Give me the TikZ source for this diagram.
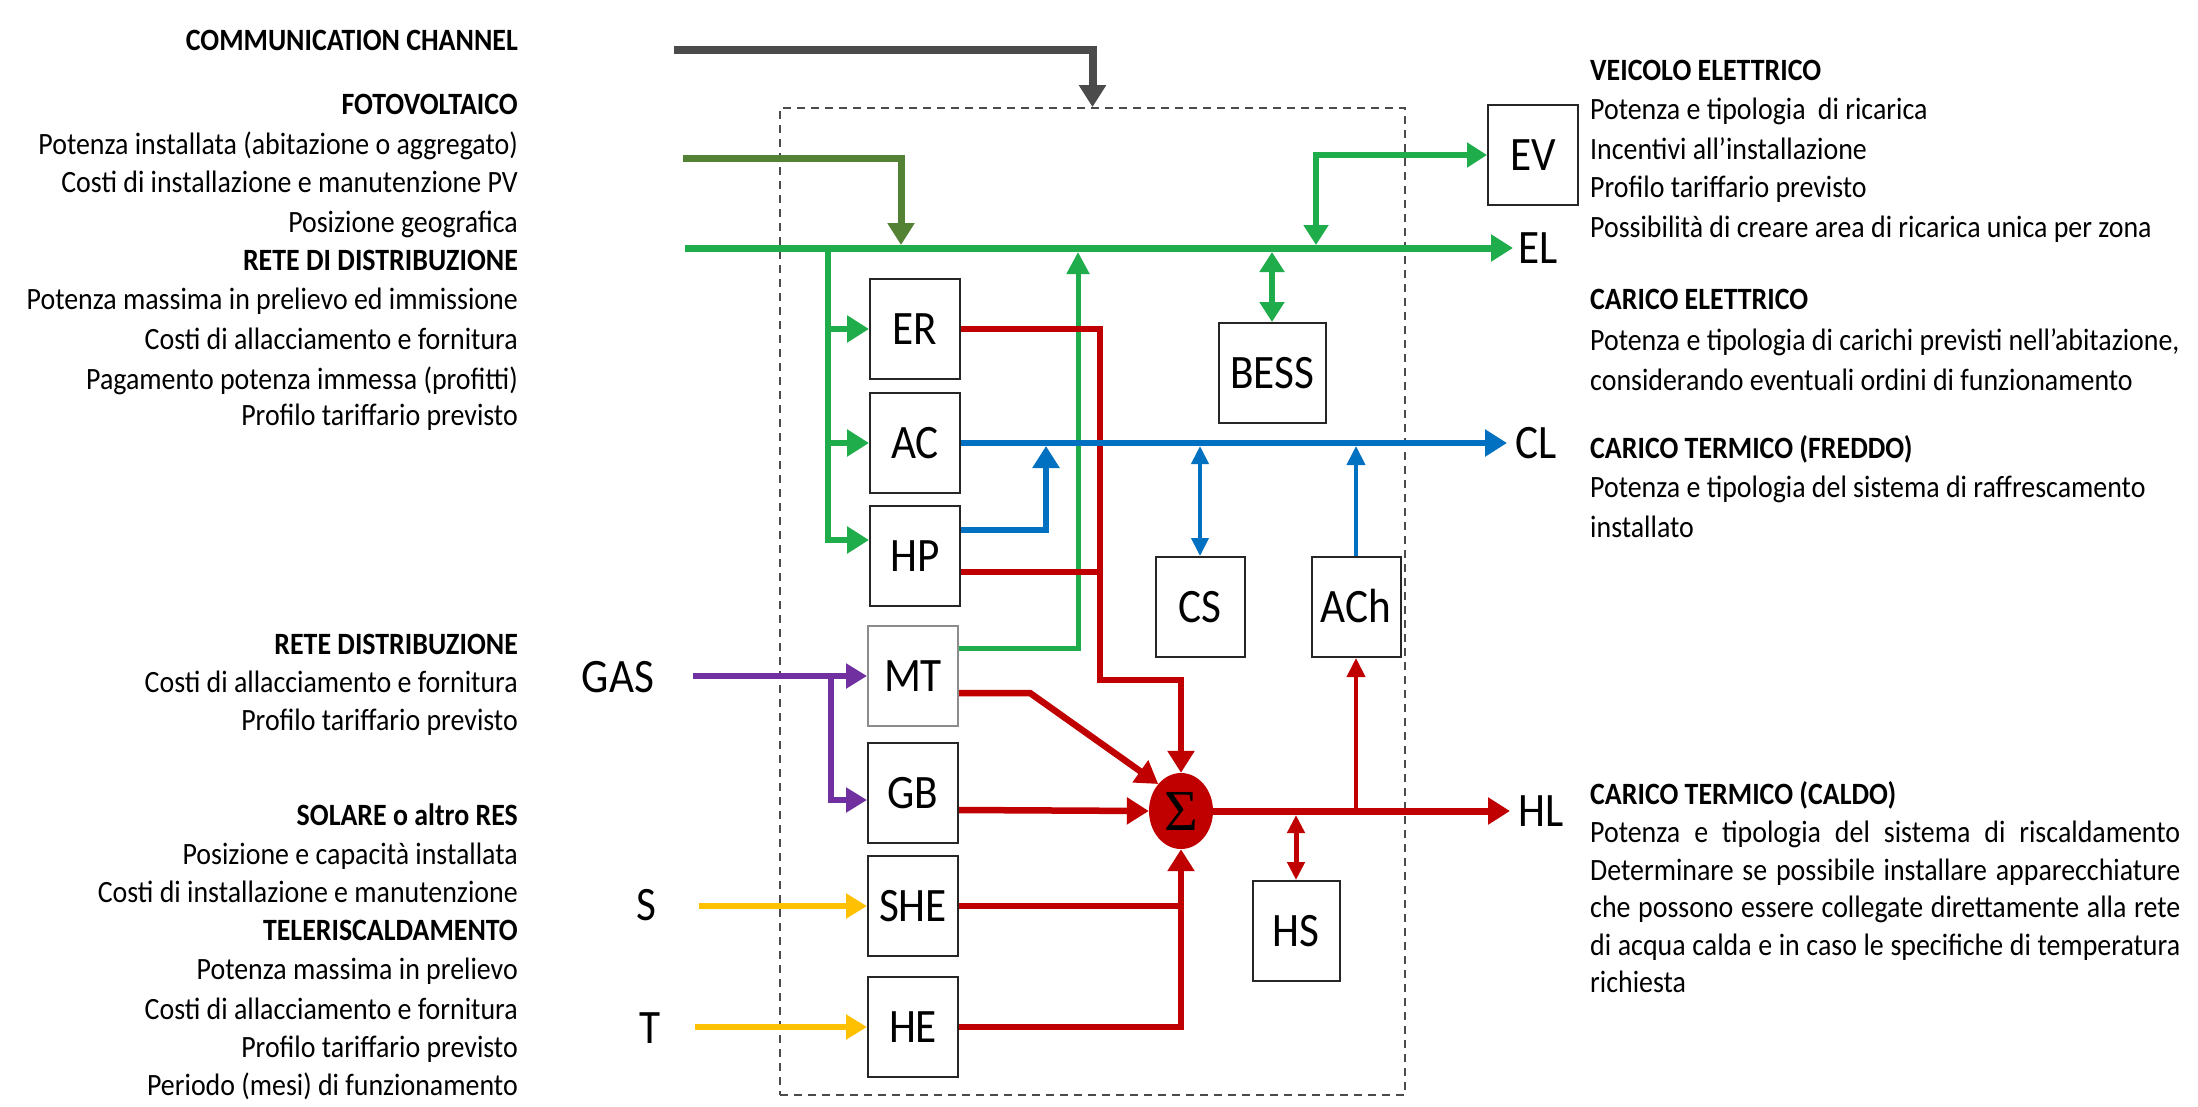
\documentclass[tikz,border=0pt]{standalone}
\usepackage{fontspec}
\setmainfont{Carlito}[FakeStretch=0.9]
\newfontfamily\sigmafont{Liberation Serif}
\usetikzlibrary{arrows.meta,shapes.geometric,calc}
\definecolor{cgreen}{RGB}{31,173,75}
\definecolor{cpv}{RGB}{84,130,53}
\definecolor{cblue}{RGB}{0,112,192}
\definecolor{cred}{RGB}{192,0,0}
\definecolor{cpurple}{RGB}{112,48,160}
\definecolor{cyellow}{RGB}{255,192,0}
\definecolor{cgrey}{RGB}{75,75,75}
\begin{document}
\begin{tikzpicture}[x=1pt,y=-1pt,
  lt/.style={anchor=east,inner sep=0pt,font=\fontsize{31}{37}\selectfont,text height=21pt,text depth=6pt},
  ltb/.style={lt,font=\fontsize{31}{37}\selectfont\bfseries},
  rt/.style={anchor=west,inner sep=0pt,font=\fontsize{31}{37}\selectfont,text height=21pt,text depth=6pt},
  rtb/.style={rt,font=\fontsize{31}{37}\selectfont\bfseries},
  lbl/.style={inner sep=0pt,font=\fontsize{48}{50}\selectfont,text height=31pt,text depth=0pt},
  blk/.style={draw=black!85,line width=2pt,fill=white,minimum width=90pt,minimum height=100pt,inner sep=0pt,font=\fontsize{48}{50}\selectfont,text height=31pt,text depth=0pt},
  tipA/.style={-{Triangle[length=22pt,width=26pt]}},
  tipAA/.style={{Triangle[length=20pt,width=24pt]}-{Triangle[length=20pt,width=24pt]}},
  tipT/.style={-{Triangle[length=19pt,width=18pt]}},
  tipTT/.style={{Triangle[length=18pt,width=17pt]}-{Triangle[length=18pt,width=17pt]}},
  gline/.style={draw=cgreen,line width=7pt},
  rline/.style={draw=cred,line width=6.5pt},
  bline/.style={draw=cblue,line width=6pt},
  pline/.style={draw=cpurple,line width=6pt},
  yline/.style={draw=cyellow,line width=6.5pt}
]
\fill[white] (0,0) rectangle (2198,1106);
\useasboundingbox (0,0) rectangle (2198,1106);

% system boundary
\node[draw=cgrey,line width=1.8pt,dash pattern=on 8pt off 6pt,minimum width=625pt,minimum height=987pt,inner sep=0pt] (sys) at (1092.5,601.5) {};

% boxes
\node[blk] (ER) at (915,329) {ER};
\node[blk] (AC) at (915,443) {AC};
\node[blk] (HP) at (915,556) {HP};
\node[blk,draw=black!45] (MT) at (913,676) {MT};
\node[blk] (GB) at (913,793) {GB};
\node[blk] (SHE) at (913,906) {SHE};
\node[blk] (HE) at (913,1027) {HE};
\node[blk,minimum width=107pt] (BESS) at (1272,373) {BESS};
\node[blk,minimum width=89pt] (CS) at (1200,607) {CS};
\node[blk,minimum width=89pt] (ACh) at (1356,607) {ACh};
\node[blk,minimum width=87pt] (HS) at (1296,931) {HS};
\node[blk] (EV) at (1533,155) {EV};
\node[ellipse,fill=cred,minimum width=64pt,minimum height=76pt,inner sep=0pt] (sum) at (1181,811) {\sigmafont\fontsize{58}{58}\selectfont Σ};

% labels of flows
\node[lbl] (GAS) at (618,677) {GAS};
\node[lbl] (S) at (646,905) {S};
\node[lbl] (T) at (650,1028) {T};
\node[lbl,anchor=west,inner xsep=5pt] (EL) at (1513,248) {EL};
\node[lbl,anchor=west,inner xsep=8pt] (CL) at (1507,443) {CL};
\node[lbl,anchor=west,inner xsep=8pt] (HL) at (1510,811) {HL};

% coordinates
\coordinate (cs0) at (674,50);
\coordinate (pv0) at (683,158);
\coordinate (pv1) at (901,245);
\coordinate (b0) at (685,248);
\coordinate (g0) at (828,248);
\coordinate (mtg) at (1078,252);
\coordinate (erd) at (1100,329);
\coordinate (erh) at (1181,680);
\coordinate (hpj) at (1103,572);
\coordinate (mtk) at (1030,693);
\coordinate (shej) at (1184,906);
\coordinate (hpb) at (1046,446);
\coordinate (csb) at (1200,446);
\coordinate (achb) at (1356,446);
\coordinate (achr) at (1356,811);
\coordinate (hsr) at (1296,815);
\coordinate (evb) at (1316,245);
\coordinate (bessb) at (1272,252);
\coordinate (gas0) at (693,676);
\coordinate (gasj) at (831,676);
\coordinate (s0) at (699,906);
\coordinate (t0) at (695,1027);

% communication channel
\draw[line width=8pt,draw=cgrey,tipA] (cs0) -| (sys.north);
% PV
\draw[line width=7pt,draw=cpv,tipA] (pv0) -| (pv1);
% electric bus
\draw[gline,tipA] (b0) -- (EL.west);
\draw[gline,line width=6pt,tipA] (g0) |- ([yshift=16pt]HP.west);
\draw[gline,line width=6pt,tipA] (g0 |- ER.west) -- (ER.west);
\draw[gline,line width=6pt,tipA] (g0 |- AC.west) -- (AC.west);
\draw[draw=cgreen,line width=5pt,-{Triangle[length=22pt,width=22pt]}] ([yshift=28pt]MT.east) -| (mtg);
\draw[gline,line width=6pt,tipAA] (evb) |- (EV.west);
\draw[gline,line width=6pt,tipAA] (bessb) -- (BESS.north);

% heat (red)
\draw[rline,tipA] (ER.east) -- (erd) |- (erh) -- (sum.north);
\draw[rline] ([yshift=-16pt]HP.east) -- (hpj);
\draw[rline,tipA] ([yshift=-17pt]MT.east) -- (mtk) -- (sum.north west);
\draw[rline,tipA] ([yshift=-17pt]GB.east) -- (sum.west);
\draw[rline] (SHE.east) -- (shej);
\draw[rline,tipA] (HE.east) -| (sum.south);
\draw[rline,line width=7pt,tipA] (sum.east) -- (HL.west);
\draw[draw=cred,line width=4pt,tipT] (achr) -- (ACh.south);
\draw[draw=cred,line width=5pt,tipTT] (hsr) -- (HS.north);

% cold (blue)
\draw[bline,tipA] (AC.east) -- (CL.west);
\draw[bline,tipA] ([yshift=26pt]HP.east) -| (hpb);
\draw[draw=cblue,line width=4pt,tipTT] (csb) -- (CS.north);
\draw[draw=cblue,line width=4pt,tipT] (ACh.north) -- (achb);

% gas and heat sources
\draw[pline,-{Triangle[length=21pt,width=24pt]}] (gas0) -- (MT.west);
\draw[pline,-{Triangle[length=21pt,width=24pt]}] (gasj) |- ([yshift=-7pt]GB.west);
\draw[yline,-{Triangle[length=21pt,width=24pt]}] (s0) -- (SHE.west);
\draw[yline,-{Triangle[length=21pt,width=24pt]}] (t0) -- (HE.west);

% left texts
\node[ltb] (l1) at (518,43) {COMMUNICATION CHANNEL};
\node[ltb] (l2) at (518,107) {FOTOVOLTAICO};
\node[lt] (l3) at (518,147) {Potenza installata (abitazione o aggregato)};
\node[lt] (l4) at (518,185) {Costi di installazione e manutenzione PV};
\node[lt] (l5) at (518,225) {Posizione geografica};
\node[ltb] (l6) at (518,263) {RETE DI DISTRIBUZIONE};
\node[lt] (l7) at (518,302) {Potenza massima in prelievo ed immissione};
\node[lt] (l8) at (518,342) {Costi di allacciamento e fornitura};
\node[lt] (l9) at (518,382) {Pagamento potenza immessa (profitti)};
\node[lt] (l10) at (518,418) {Profilo tariffario previsto};
\node[ltb] (l11) at (518,647) {RETE DISTRIBUZIONE};
\node[lt] (l12) at (518,685) {Costi di allacciamento e fornitura};
\node[lt] (l13) at (518,723) {Profilo tariffario previsto};
\node[ltb] (l14) at (518,818) {SOLARE o altro RES};
\node[lt] (l15) at (518,857) {Posizione e capacità installata};
\node[lt] (l16) at (518,895) {Costi di installazione e manutenzione};
\node[ltb] (l17) at (518,933) {TELERISCALDAMENTO};
\node[lt] (l18) at (518,972) {Potenza massima in prelievo};
\node[lt] (l19) at (518,1012) {Costi di allacciamento e fornitura};
\node[lt] (l20) at (518,1050) {Profilo tariffario previsto};
\node[lt] (l21) at (518,1088) {Periodo (mesi) di funzionamento};

% right texts
\node[rtb] (r1) at (1590,73) {VEICOLO ELETTRICO};
\node[rt] (r2) at (1590,112) {Potenza e tipologia\hspace{6pt} di ricarica};
\node[rt] (r3) at (1590,152) {Incentivi all’installazione};
\node[rt] (r4) at (1590,190) {Profilo tariffario previsto};
\node[rt] (r5) at (1590,230) {Possibilità di creare area di ricarica unica per zona};
\node[rtb] (r6) at (1590,302) {CARICO ELETTRICO};
\node[rt] (r7) at (1590,343) {Potenza e tipologia di carichi previsti nell’abitazione,};
\node[rt] (r8) at (1590,383) {considerando eventuali ordini di funzionamento};
\node[rtb] (r9) at (1590,451) {CARICO TERMICO (FREDDO)};
\node[rt] (r10) at (1590,490) {Potenza e tipologia del sistema di raffrescamento};
\node[rt] (r11) at (1590,530) {installato};
\node[rtb] (r12) at (1590,797) {CARICO TERMICO (CALDO)};
\node[rt] (r13) at (1590,835) {\makebox[590pt][s]{Potenza e tipologia del sistema di riscaldamento}};
\node[rt] (r14) at (1590,873) {\makebox[590pt][s]{Determinare se possibile installare apparecchiature}};
\node[rt] (r15) at (1590,910) {\makebox[590pt][s]{che possono essere collegate direttamente alla rete}};
\node[rt] (r16) at (1590,948) {\makebox[590pt][s]{di acqua calda e in caso le specifiche di temperatura}};
\node[rt] (r17) at (1590,985) {richiesta};
\end{tikzpicture}
\end{document}
